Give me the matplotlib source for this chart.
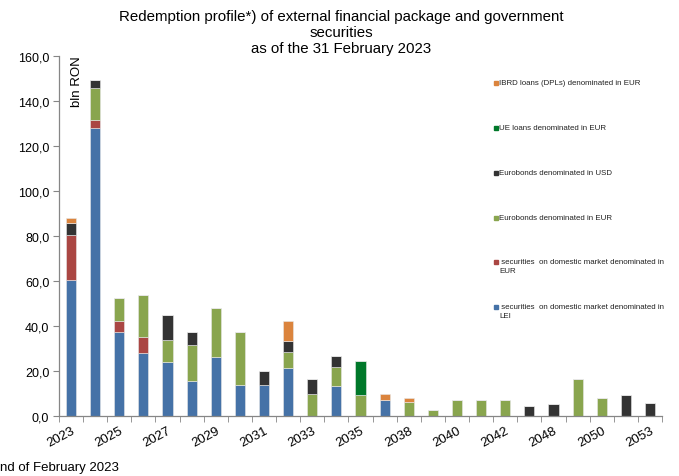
import matplotlib
matplotlib.use("Agg")
import matplotlib.pyplot as plt
from matplotlib.patches import Rectangle
import numpy as np

plt.rcParams['font.family'] = ['Liberation Sans', 'DejaVu Sans']

years = ['2023', '2024', '2025', '2026', '2027', '2028', '2029', '2030', '2031',
         '2032', '2033', '2034', '2035', '2036', '2038', '2039', '2040', '2041',
         '2042', '2044', '2048', '2049', '2050', '2051', '2053']

# bln RON, by instrument (bottom to top of each stack)
sec_lei = [60.4, 127.9, 37.2, 28.0, 23.9, 15.4, 26.1, 13.8, 13.8, 21.5, 0, 13.3, 0,
           7.3, 0, 0, 0, 0, 0, 0, 0, 0, 0, 0, 0]
sec_eur = [20.2, 3.8, 5.2, 7.0, 0, 0, 0, 0, 0, 0, 0, 0, 0,
           0, 0, 0, 0, 0, 0, 0, 0, 0, 0, 0, 0]
euro_eur = [0, 14.2, 9.9, 18.8, 9.9, 16.2, 21.8, 23.4, 0, 6.9, 9.8, 8.6, 9.5,
            0, 6.1, 2.8, 7.3, 7.3, 7.3, 0, 0, 16.4, 7.9, 0, 0]
euro_usd = [5.2, 3.4, 0, 0, 11.0, 5.7, 0, 0, 6.1, 5.1, 6.8, 4.8, 0,
            0, 0, 0, 0, 0, 0, 4.5, 5.4, 0, 0, 9.2, 5.6]
ue_loans = [0, 0, 0, 0, 0, 0, 0, 0, 0, 0, 0, 0, 14.9,
            0, 0, 0, 0, 0, 0, 0, 0, 0, 0, 0, 0]
ibrd = [2.2, 0, 0, 0, 0, 0, 0, 0, 0, 8.6, 0, 0, 0,
        2.6, 1.9, 0, 0, 0, 0, 0, 0, 0, 0, 0, 0]

series = [
    (" securities  on domestic market denominated in\nLEI", sec_lei, '#4572A7'),
    (" securities  on domestic market denominated in\nEUR", sec_eur, '#AA4643'),
    ("Eurobonds denominated in EUR", euro_eur, '#89A54E'),
    ("Eurobonds denominated in USD", euro_usd, '#333333'),
    ("UE loans denominated in EUR", ue_loans, '#00782A'),
    ("IBRD loans (DPLs) denominated in EUR", ibrd, '#DB843D'),
]

fig = plt.figure(figsize=(6.79, 4.77), dpi=100)
ax = fig.add_axes([59 / 679, 60 / 477, 603 / 679, 360 / 477])

x = np.arange(len(years))
bottom = np.zeros(len(years))
for label, vals, color in series:
    v = np.array(vals, dtype=float)
    ax.bar(x, v, width=0.42, bottom=bottom, color=color,
           edgecolor='#e8e8e8', linewidth=0.4)
    bottom += v

ax.set_xlim(-0.5, len(years) - 0.5)
ax.set_ylim(0, 160)
ax.set_yticks(np.arange(0, 161, 20))
ax.set_yticklabels([f"{t:.1f}".replace('.', ',') for t in np.arange(0, 161, 20)],
                   fontsize=9)

ax.set_xticks(x[::2])
ax.set_xticklabels(years[::2], rotation=28, ha='right', rotation_mode='anchor',
                   fontsize=9.5)
ax.set_xticks(np.arange(-0.5, len(years)), minor=True)
ax.tick_params(axis='x', which='major', length=0, pad=6)
ax.tick_params(axis='x', which='minor', length=4, color='#868686', direction='out')
ax.tick_params(axis='y', length=4, color='#868686', direction='out', pad=3)

for s in ['top', 'right']:
    ax.spines[s].set_visible(False)
for s in ['left', 'bottom']:
    ax.spines[s].set_color('#868686')
    ax.spines[s].set_linewidth(0.9)

fig.text(341 / 679, 1 - 10 / 477,
         "Redemption profile*) of external financial package and government\n"
         "securities\nas of the 31 February 2023",
         ha='center', va='top', fontsize=10.8, linespacing=1.17)

fig.text(77 / 679, 1 - 82 / 477, "bln RON", rotation=90, ha='center', va='center',
         fontsize=9.5)

fig.text(0.5 / 679, 1 - 468 / 477, "nd of February 2023",
         ha='left', va='center', fontsize=9.5)

# legend, top entry first (y = centre of first text line, px from top)
legend_y = [84, 129, 174, 219, 263.5, 308]
for (label, vals, color), yy in zip(reversed(series), legend_y):
    fig.patches.append(Rectangle((494 / 679, 1 - (yy + 1.7) / 477), 3.8 / 679, 3.8 / 477,
                                 transform=fig.transFigure, color=color))
    fig.text(499 / 679, 1 - (yy - 4.3) / 477, label, ha='left', va='top',
             fontsize=5.7, color='#222222', linespacing=1.45)

fig.savefig("out.png", dpi=100)
